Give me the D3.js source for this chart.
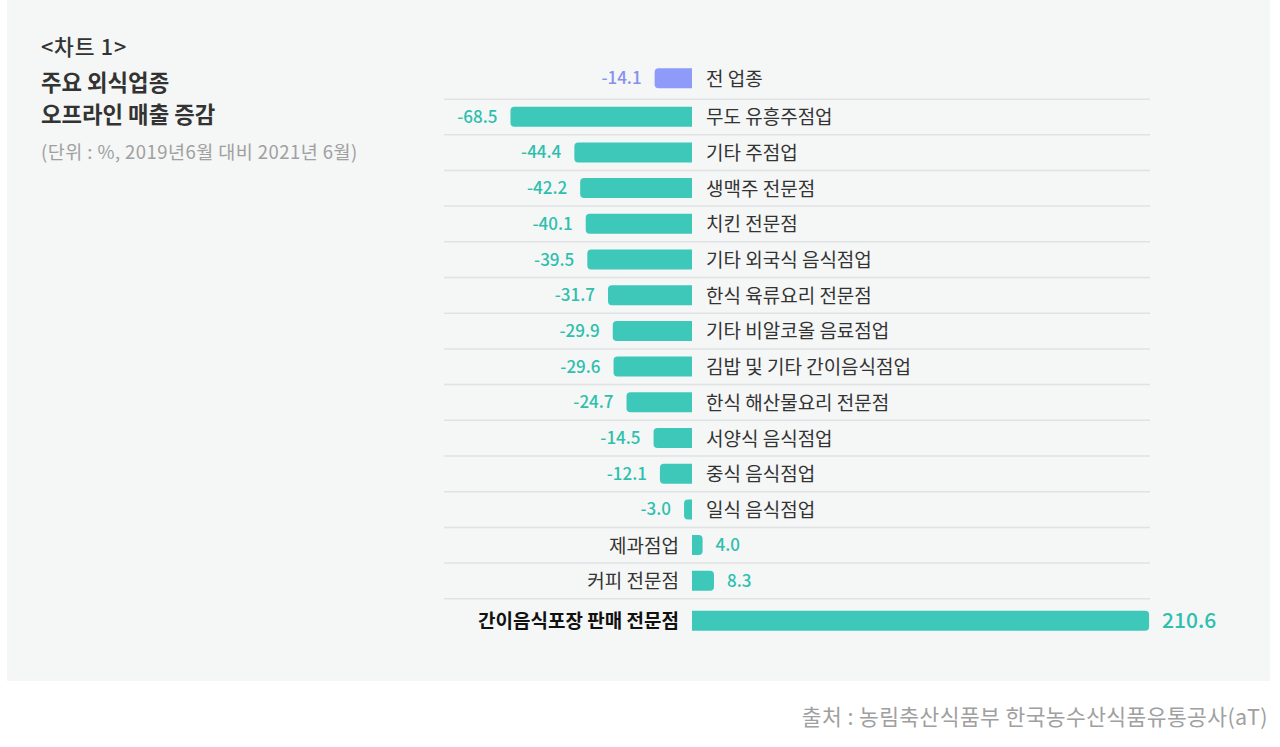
<!DOCTYPE html>
<html>
<head>
<meta charset="utf-8">
<script src="https://cdn.jsdelivr.net/npm/d3@7/dist/d3.min.js"></script>
<style>
  html, body { margin: 0; padding: 0; background: #ffffff; }
  svg { display: block; font-family: "Noto Sans CJK KR", "Noto Sans", sans-serif; }
</style>
</head>
<body>
<svg id="chart" width="1280" height="747"></svg>
<script>
const categories = ["전 업종","무도 유흥주점업","기타 주점업","생맥주 전문점","치킨 전문점","기타 외국식 음식점업","한식 육류요리 전문점","기타 비알코올 음료점업","김밥 및 기타 간이음식점업","한식 해산물요리 전문점","서양식 음식점업","중식 음식점업","일식 음식점업","제과점업","커피 전문점","간이음식포장 판매 전문점"];
const values = [-14.1,-68.5,-44.4,-42.2,-40.1,-39.5,-31.7,-29.9,-29.6,-24.7,-14.5,-12.1,-3.0,4.0,8.3,210.6];
const titleLines = ["<차트 1>","주요 외식업종","오프라인 매출 증감"];
const subtitle = "(단위 : %, 2019년6월 대비 2021년 6월)";
const source = "출처 : 농림축산식품부 한국농수산식품유통공사(aT)";

const svg = d3.select("#chart");
const n = categories.length;

// background panel
svg.append("rect").attr("x",7).attr("y",0).attr("width",1263).attr("height",681).attr("fill","#f5f6f6");

// titles
svg.append("text").attr("x",41).attr("y",55).attr("font-size",21.5).attr("letter-spacing",0.8).attr("font-weight",500).attr("fill","#333").text(titleLines[0]);
svg.append("text").attr("x",41).attr("y",91).attr("font-size",22.3).attr("font-weight",700).attr("fill","#333").text(titleLines[1]);
svg.append("text").attr("x",41).attr("y",123).attr("font-size",22.3).attr("font-weight",700).attr("fill","#333").text(titleLines[2]);
svg.append("text").attr("x",41).attr("y",159).attr("font-size",18.5).attr("letter-spacing",0.45).attr("fill","#a0a0a0").text(subtitle);

// scales
const x = d3.scaleLinear().domain([-70, 172.5]).range([506.5, 1149.1]).clamp(true);
const yMid = d3.scaleLinear().domain([1, 14]).range([116.7, 580.8]);
const rowY = i => yMid(i) + (i === 0 ? -2.7 : 0) + (i === n - 1 ? 4.2 : 0);
const barH = 20, r = 4;
const x0 = x(0);

// separators
const sepY = [rowY(1) - 17.5].concat(d3.range(1, n - 1).map(i => rowY(i) + 18));
svg.append("g").selectAll("line").data(sepY).join("line")
  .attr("x1", 444).attr("x2", 1150)
  .attr("y1", d => d).attr("y2", d => d)
  .attr("stroke", "#e0e2e4").attr("stroke-width", 1.5);

function barPath(v, cy) {
  const xs = x(v), top = cy - barH / 2, bot = cy + barH / 2;
  const w = Math.abs(xs - x0);
  const rr = Math.min(r, w);
  if (v < 0) {
    return `M${x0},${top} L${xs + rr},${top} Q${xs},${top} ${xs},${top + rr} L${xs},${bot - rr} Q${xs},${bot} ${xs + rr},${bot} L${x0},${bot} Z`;
  } else {
    return `M${x0},${top} L${xs - rr},${top} Q${xs},${top} ${xs},${top + rr} L${xs},${bot - rr} Q${xs},${bot} ${xs - rr},${bot} L${x0},${bot} Z`;
  }
}

const data = categories.map((c, i) => ({ c, v: values[i], i }));
const barColor = d => d.i === 0 ? "#8e9bf8" : "#3ec8b9";
const valColor = d => d.i === 0 ? "#8690ee" : "#2ebfae";

svg.append("g").selectAll("path").data(data).join("path")
  .attr("d", d => barPath(d.v, rowY(d.i)))
  .attr("fill", barColor);

// value labels
svg.append("g").selectAll("text").data(data).join("text")
  .attr("x", d => d.v < 0 ? x(d.v) - 13 : x(d.v) + 13)
  .attr("y", d => rowY(d.i))
  .attr("dy", d => d.i === n - 1 ? 7 : 6)
  .attr("text-anchor", d => d.v < 0 ? "end" : "start")
  .attr("font-size", d => d.i === n - 1 ? 21 : 17)
  .attr("font-weight", 500)
  .attr("fill", valColor)
  .text(d => d.v.toFixed(1));

// category labels
svg.append("g").selectAll("text").data(data).join("text")
  .attr("x", d => d.v < 0 ? x0 + 14 : x0 - 13)
  .attr("y", d => rowY(d.i))
  .attr("dy", 7.5)
  .attr("text-anchor", d => d.v < 0 ? "start" : "end")
  .attr("font-size", 19)
  .attr("font-weight", d => d.i === n - 1 ? 700 : 400)
  .attr("fill", d => d.i === n - 1 ? "#111" : "#333")
  .text(d => d.c);

// source
svg.append("text").attr("x",1268).attr("y",725).attr("text-anchor","end").attr("font-size",21.5).attr("letter-spacing",0.4).attr("fill","#a0a0a0").text(source);
</script>
</body>
</html>
